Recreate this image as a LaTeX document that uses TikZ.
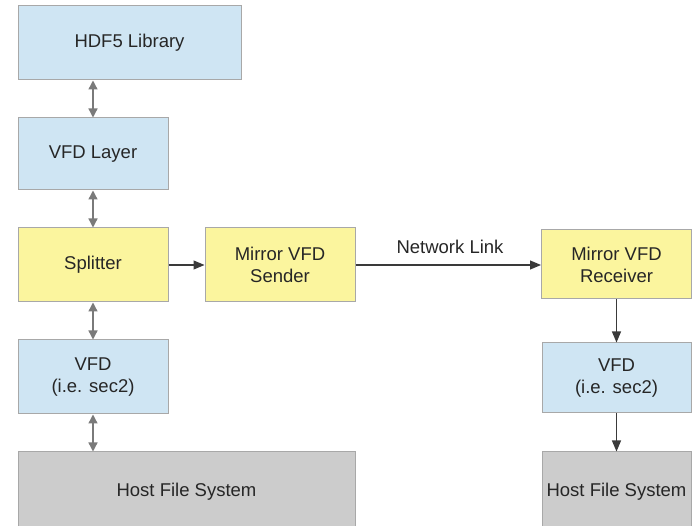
\documentclass[tikz,border=0pt]{standalone}
\usepackage{fontspec}
\setmainfont{Liberation Sans}
\usetikzlibrary{arrows.meta}
\definecolor{bluefill}{HTML}{CFE5F3}
\definecolor{yellowfill}{HTML}{FBF59E}
\definecolor{grayfill}{HTML}{CCCCCC}
\definecolor{boxline}{HTML}{A8A8A8}
\definecolor{dblarrow}{HTML}{7A7A7A}
\definecolor{onearrow}{HTML}{3A3A3A}
\begin{document}
\begin{tikzpicture}[x=1pt,y=-1pt,
  box/.style={draw=boxline,line width=1pt,inner sep=0pt,align=center,
    font=\fontsize{18.5}{22}\selectfont,text=black!85},
  bluebox/.style={box,fill=bluefill},
  yellowbox/.style={box,fill=yellowfill},
  graybox/.style={box,fill=grayfill},
  bidir/.style={draw=dblarrow,line width=1.3pt,{Triangle[length=9pt,width=9pt]}-{Triangle[length=9pt,width=9pt]},color=dblarrow},
  onedir/.style={draw=onearrow,line width=1.1pt,-{Triangle[length=11pt,width=9pt]},color=onearrow}
]
\useasboundingbox (0,0) rectangle (694,526);
\node[bluebox,minimum width=223pt,minimum height=74pt] (hdf) at (129.5,43) {HDF5 Library};
\node[bluebox,minimum width=150pt,minimum height=72pt] (vfdl) at (93,154) {VFD Layer};
\node[yellowbox,minimum width=150pt,minimum height=74pt] (split) at (93,265) {Splitter};
\node[yellowbox,minimum width=150pt,minimum height=74pt] (send) at (280,265) {Mirror VFD\\Sender};
\node[yellowbox,minimum width=150pt,minimum height=69pt] (recv) at (616.5,264.5) {Mirror VFD\\Receiver};
\node[bluebox,minimum width=150pt,minimum height=74pt] (vfdL) at (93,377) {VFD\\(i.e. sec2)};
\node[bluebox,minimum width=149pt,minimum height=70pt] (vfdR) at (616.5,378) {VFD\\(i.e. sec2)};
\node[graybox,minimum width=337pt,minimum height=80pt] (hostL) at (186.5,492) {Host File System};
\node[graybox,minimum width=149pt,minimum height=80pt] (hostR) at (616.5,492) {Host File System};
\node[font=\fontsize{18.5}{22}\selectfont,text=black!85] (netlbl) at (450,247) {Network Link};
\draw[bidir] (hdf.south -| vfdl.north) -- (vfdl.north);
\draw[bidir] (vfdl.south) -- (split.north);
\draw[bidir] (split.south) -- (vfdL.north);
\draw[bidir] (vfdL.south) -- (vfdL.south |- hostL.north);
\draw[onedir] (split.east) -- (send.west);
\draw[onedir] (send.east) -- (send.east -| recv.west);
\draw[onedir] (recv.south) -- (vfdR.north);
\draw[onedir] (vfdR.south) -- (hostR.north);
\end{tikzpicture}
\end{document}
